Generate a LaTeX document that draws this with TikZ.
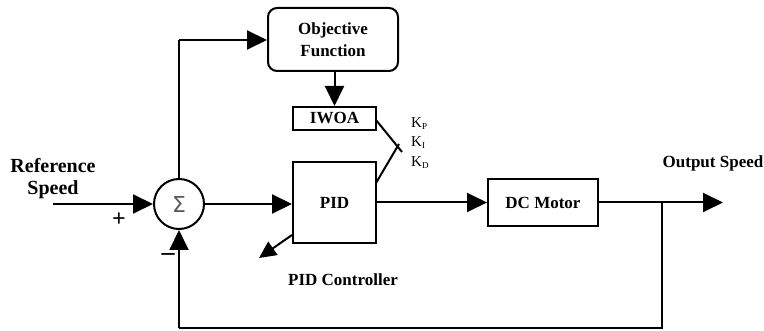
\documentclass[tikz,border=0pt]{standalone}
\usepackage{fontspec}
\setmainfont{Liberation Serif}
\newfontfamily\sigmafont{DejaVu Sans}
\usetikzlibrary{arrows.meta}
\tikzset{
  line/.style={line width=2pt},
  arr/.style={line width=2pt,-{Triangle[length=20pt,width=19pt]}},
  blk/.style={draw,line width=2pt,inner sep=0pt,font=\fontsize{17}{20}\selectfont\bfseries},
  lbl/.style={font=\fontsize{17}{20}\selectfont\bfseries,inner sep=0pt},
}
\begin{document}
\begin{tikzpicture}[x=1pt,y=-1pt]
\useasboundingbox (0,0) rectangle (764,331);
% blocks
\node[blk,circle,minimum size=50pt] (sum) at (179,204) {};
\node[text=black!65,inner sep=0pt] (sig) at (179,204) {\sigmafont\fontsize{22}{24}\selectfont Σ};
\node[blk,rounded corners=9pt,minimum width=130pt,minimum height=63pt,align=center] (obj) at (333,39.5) {Objective\\[2pt]Function};
\node[blk,minimum width=83pt,minimum height=23pt] (iwoa) at (334.5,118.5) {IWOA};
\node[blk,minimum width=83pt,minimum height=81pt] (pid) at (334.5,202.5) {PID};
\node[blk,minimum width=110pt,minimum height=47pt] (dc) at (543,202.5) {DC Motor};
% labels
\node[font=\fontsize{20}{22}\selectfont\bfseries,align=center,inner sep=0pt] (ref) at (53,179) {Reference\\Speed};
\node[lbl,font=\fontsize{24}{24}\selectfont\bfseries] (plus) at (119,220) {+};
\node[lbl,font=\fontsize{26}{26}\selectfont\bfseries] (minus) at (168,257) {–};
\node[lbl] (out) at (713,163) {Output Speed};
\node[lbl] (pidc) at (343,280) {PID Controller};
\node[font=\fontsize{15}{18}\selectfont,align=left,anchor=west,inner sep=0pt] (kp) at (411,124) {K\textsubscript{\fontsize{9}{9}\selectfont P}};
\node[font=\fontsize{15}{18}\selectfont,align=left,anchor=west,inner sep=0pt] (ki) at (411,143) {K\textsubscript{\fontsize{9}{9}\selectfont I}};
\node[font=\fontsize{15}{18}\selectfont,align=left,anchor=west,inner sep=0pt] (kd) at (411,163) {K\textsubscript{\fontsize{9}{9}\selectfont D}};
% coordinates
\coordinate (in) at (53,204);
\coordinate (top) at (179,40);
\coordinate (j1) at (402,152);
\coordinate (j2) at (399,144);
\coordinate (pidr) at (376,183);
\coordinate (iwr) at (376,120);
\coordinate (br) at (662,202.5);
\coordinate (outend) at (723,202.5);
\coordinate (bot1) at (662,328);
\coordinate (bot2) at (179,328);
\coordinate (pa) at (292,235);
\coordinate (pb) at (259,258);
% connectors
\draw[arr] (in) -- (sum.west);
\draw[line] (sum.north) -- (top);
\draw[arr] (top) -- (obj.west |- top);
\draw[arr] (iwoa.north |- obj.south) -- (iwoa.north);
\draw[arr] (sum.east) -- (pid.west |- sum.east);
\draw[arr] (pid.east |- dc.west) -- (dc.west);
\draw[line] (dc.east) -- (br);
\draw[arr] (br) -- (outend);
\draw[line] (br) -- (bot1) -- (bot2);
\draw[arr] (bot2) -- (sum.south);
\draw[line] (iwr) -- (j1);
\draw[line] (pidr) -- (j2);
\draw[arr,-{Triangle[length=17pt,width=16pt]}] (pa) -- (pb);
\end{tikzpicture}
\end{document}
